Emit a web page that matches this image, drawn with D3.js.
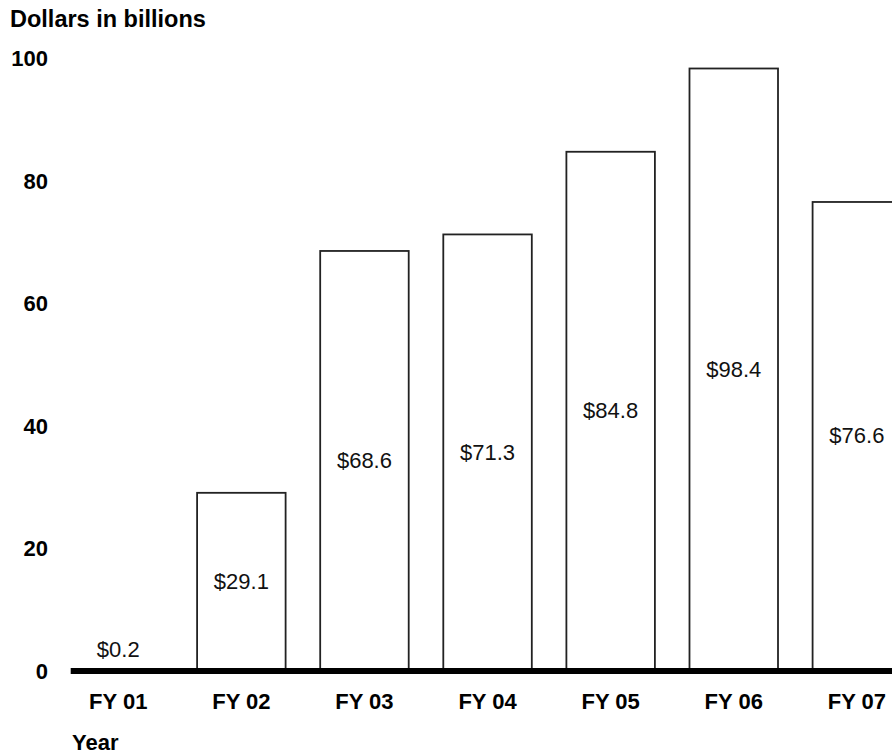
<!DOCTYPE html>
<html>
<head>
<meta charset="utf-8">
<script src="https://cdn.jsdelivr.net/npm/d3@7"></script>
<style>
  html, body { margin: 0; padding: 0; background: #fff; }
  svg { display: block; font-family: "Liberation Sans", Arial, Helvetica, sans-serif; }
</style>
</head>
<body>
<svg id="chart" width="892" height="755"></svg>
<script>
const categories = ["FY 01", "FY 02", "FY 03", "FY 04", "FY 05", "FY 06", "FY 07"];
const values = [0.2, 29.1, 68.6, 71.3, 84.8, 98.4, 76.6];
const valueLabels = ["$0.2", "$29.1", "$68.6", "$71.3", "$84.8", "$98.4", "$76.6"];
const yTicks = [0, 20, 40, 60, 80, 100];
const yTitle = "Dollars in billions";
const xTitle = "Year";

const svg = d3.select("#chart");
const W = 892, H = 755;
const baseY = 671, topY = 58.7;

const y = d3.scaleLinear().domain([0, 100]).range([baseY, topY]);
const x = d3.scaleBand().domain(categories).range([74, 901.1]).paddingInner(0.281).paddingOuter(0);

// bars
svg.append("g").selectAll("rect").data(values).join("rect")
  .attr("x", (d, i) => x(categories[i]))
  .attr("y", d => y(d))
  .attr("width", x.bandwidth())
  .attr("height", d => baseY - y(d))
  .attr("fill", "#fff")
  .attr("stroke", "#222")
  .attr("stroke-width", 1.8);

// value labels
svg.append("g").selectAll("text").data(values).join("text")
  .attr("x", (d, i) => x(categories[i]) + x.bandwidth() / 2)
  .attr("y", d => (baseY - y(d)) < 40 ? y(d) - 13 : (y(d) + baseY) / 2 + 7)
  .attr("text-anchor", "middle")
  .attr("font-size", 22)
  .attr("fill", "#111")
  .text((d, i) => valueLabels[i]);

// baseline
svg.append("line")
  .attr("x1", 70.7).attr("x2", W)
  .attr("y1", baseY).attr("y2", baseY)
  .attr("stroke", "#000").attr("stroke-width", 6);

// y axis labels
const yAxis = svg.append("g").attr("transform", "translate(48,0)")
  .call(d3.axisLeft(y).tickValues(yTicks).tickSize(0).tickPadding(0).tickFormat(d3.format("d")));
yAxis.select(".domain").remove();
yAxis.selectAll("text").attr("font-size", 22).attr("font-weight", "bold").attr("fill", "#000")
  .attr("font-family", "'Liberation Sans', Arial, Helvetica, sans-serif");

// x axis labels
const xAxis = svg.append("g").attr("transform", `translate(0,${baseY})`)
  .call(d3.axisBottom(x).tickSize(0).tickPadding(22));
xAxis.select(".domain").remove();
xAxis.selectAll("text").attr("font-size", 22).attr("font-weight", "bold").attr("fill", "#000")
  .attr("font-family", "'Liberation Sans', Arial, Helvetica, sans-serif");

// titles
svg.append("text").attr("x", 10).attr("y", 27)
  .attr("font-size", 23.5).attr("font-weight", "bold").attr("fill", "#000")
  .text(yTitle);
svg.append("text").attr("x", 72).attr("y", 750)
  .attr("font-size", 22).attr("font-weight", "bold").attr("fill", "#000")
  .text(xTitle);
</script>
</body>
</html>
